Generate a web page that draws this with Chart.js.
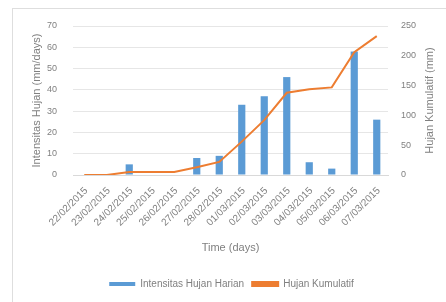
<!DOCTYPE html>
<html>
<head>
<meta charset="utf-8">
<script src="https://cdn.jsdelivr.net/npm/chart.js@4"></script>
<style>
  html, body { margin: 0; padding: 0; background: #fff; }
  #wrap { position: relative; width: 446px; height: 302px; overflow: hidden; }
  #frame { position: absolute; left: 12px; top: 8px; width: 460px; height: 320px; border: 1px solid #dedede; }
  canvas { position: absolute; left: 0; top: 0; }
</style>
</head>
<body>
<div id="wrap">
  <div id="frame"></div>
  <canvas id="rainChart" width="446" height="302"></canvas>
</div>
<script>
var dates = ['22/02/2015', '23/02/2015', '24/02/2015', '25/02/2015', '26/02/2015', '27/02/2015', '28/02/2015',
             '01/03/2015', '02/03/2015', '03/03/2015', '04/03/2015', '05/03/2015', '06/03/2015', '07/03/2015'];
var dailyRain = [0, 0, 5, 0, 0, 8, 9, 33, 37, 46, 6, 3, 58, 26];
var cumulativeRain = [0, 0, 5, 5, 5, 13, 22, 56, 92, 138, 144, 147, 206, 233];
var leftTicks = [0, 10, 20, 30, 40, 50, 60, 70];
var rightTicks = [0, 50, 100, 150, 200, 250];

var grey = '#808080';
var tickFont = { family: 'Liberation Sans', size: 9 };
var dateFont = { family: 'Liberation Sans', size: 10 };
var titleFont = { family: 'Liberation Sans', size: 11 };
var rightTitle = 'Hujan Kumulatif (mm)';

// date labels at 45 degrees, drawn here so they don't push the plot area around
// right axis title, read bottom-to-top like the left one
var labelsPlugin = {
    id: 'extraLabels',
    afterDraw: function (chart) {
        var c = chart.ctx;
        var xs = chart.scales.x;
        c.save();
        c.font = dateFont.size + 'px ' + dateFont.family;
        c.fillStyle = grey;
        c.textAlign = 'right';
        c.textBaseline = 'middle';
        xs.ticks.forEach(function (t, i) {
            c.save();
            c.translate(xs.getPixelForTick(i) + 2, xs.top + 14);
            c.rotate(-Math.PI / 4);
            c.fillText(dates[i], 0, 0);
            c.restore();
        });
        c.restore();

        var s = chart.scales.y1;
        c.save();
        c.translate(s.right - 7, (s.top + s.bottom) / 2);
        c.rotate(-Math.PI / 2);
        c.font = titleFont.size + 'px ' + titleFont.family;
        c.fillStyle = grey;
        c.textAlign = 'center';
        c.textBaseline = 'middle';
        c.fillText(rightTitle, 0, 0);
        c.restore();
    }
};

var ctx = document.getElementById('rainChart').getContext('2d');
var rainChart = new Chart(ctx, {
    type: 'bar',
    data: {
        labels: dates,
        datasets: [{
            label: 'Intensitas Hujan Harian',
            data: dailyRain,
            backgroundColor: '#5b9bd5',
            yAxisID: 'y',
            barPercentage: 0.32,
            categoryPercentage: 1,
            order: 2
        }, {
            type: 'line',
            label: 'Hujan Kumulatif',
            data: cumulativeRain,
            borderColor: '#ed7d31',
            backgroundColor: '#ed7d31',
            borderWidth: 2,
            pointRadius: 0,
            tension: 0,
            yAxisID: 'y1',
            order: 1
        }]
    },
    options: {
        responsive: false,
        animation: false,
        layout: { padding: { left: 26, right: 9, top: 26, bottom: 3 } },
        plugins: {
            tooltip: { enabled: false },
            legend: {
                position: 'bottom',
                labels: {
                    boxWidth: 26, boxHeight: 4, font: { family: 'Liberation Sans', size: 10 }, color: grey, padding: 8,
                    sort: function (a, b) { return a.datasetIndex - b.datasetIndex; }
                }
            }
        },
        scales: {
            x: {
                grid: { display: false },
                border: { color: '#d9d9d9' },
                ticks: { display: false },
                title: { display: true, text: 'Time (days)', font: titleFont, color: grey, padding: { top: 4, bottom: 16 } },
                afterFit: function (axis) { axis.height = 96; }
            },
            y: {
                position: 'left',
                min: leftTicks[0],
                max: leftTicks[leftTicks.length - 1],
                afterBuildTicks: function (axis) { axis.ticks = leftTicks.map(function (v) { return { value: v }; }); },
                afterFit: function (axis) { axis.width = 47; },
                grid: { color: '#e6e6e6', drawTicks: false },
                border: { display: false },
                ticks: { font: tickFont, color: grey, padding: 16 },
                title: { display: true, text: 'Intensitas Hujan (mm/days)', font: titleFont, color: grey }
            },
            y1: {
                position: 'right',
                min: rightTicks[0],
                max: rightTicks[rightTicks.length - 1],
                afterBuildTicks: function (axis) { axis.ticks = rightTicks.map(function (v) { return { value: v }; }); },
                afterFit: function (axis) { axis.width = 49; },
                grid: { display: false, drawTicks: false },
                border: { display: false },
                ticks: { font: tickFont, color: grey, padding: 13 },
                title: { display: true, text: rightTitle, font: titleFont, color: 'rgba(0,0,0,0)' }
            }
        }
    },
    plugins: [labelsPlugin]
});
</script>
</body>
</html>
